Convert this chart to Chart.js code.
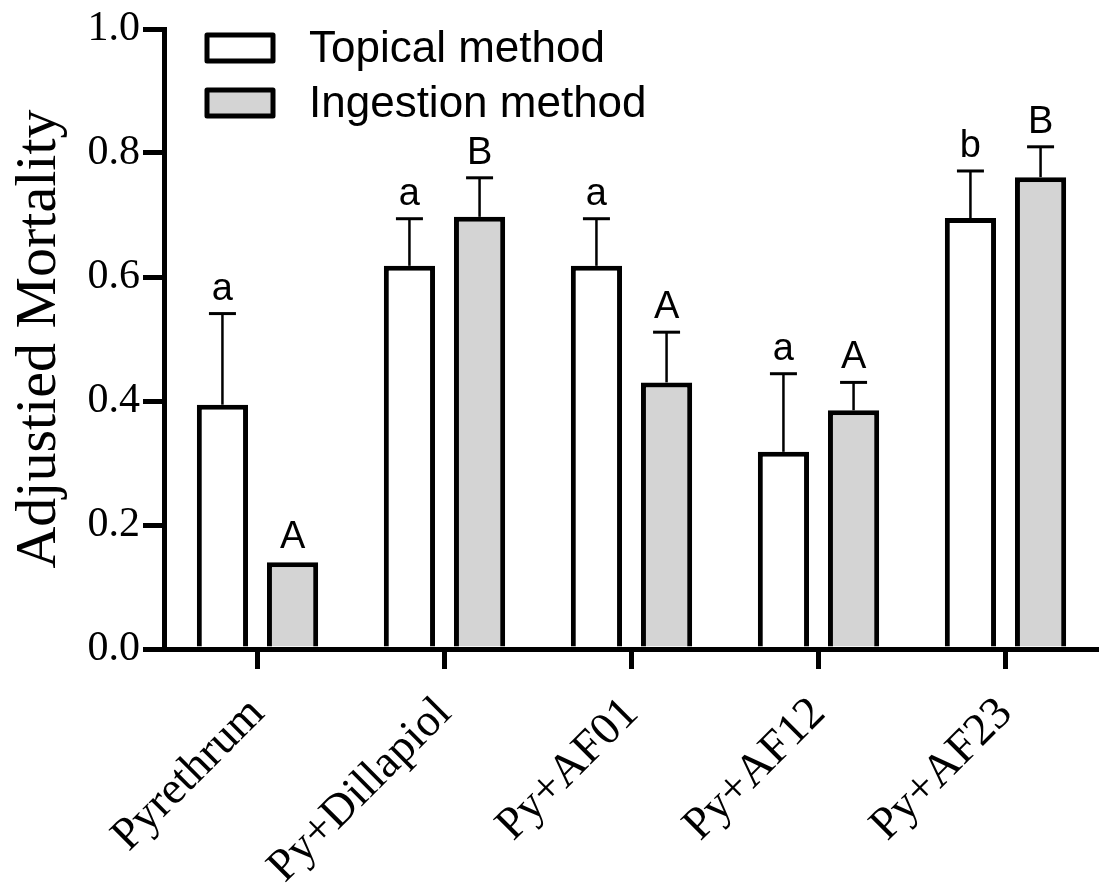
<!DOCTYPE html>
<html lang="en">
<head>
    <meta charset="UTF-8">
    <title>Adjusted Mortality</title>
    <script src="https://cdn.jsdelivr.net/npm/chart.js"></script>
    <style>
        body { margin: 0; background: #fff; }
        #wrap { width: 1099px; height: 886px; }
    </style>
</head>
<body>
    <div id="wrap"><canvas id="barChart"></canvas></div>

    <script>
        // values
        const categories = ['Pyrethrum', 'Py+Dillapiol', 'Py+AF01', 'Py+AF12', 'Py+AF23'];
        const topical = [0.394, 0.618, 0.618, 0.318, 0.695];
        const topicalErr = [0.147, 0.076, 0.076, 0.126, 0.076];
        const ingestion = [0.140, 0.697, 0.430, 0.385, 0.761];
        const ingestionErr = [0, 0.063, 0.081, 0.045, 0.049];
        const topicalLetters = ['a', 'a', 'a', 'a', 'b'];
        const ingestionLetters = ['A', 'B', 'A', 'A', 'B'];
        const yTicks = [0, 0.2, 0.4, 0.6, 0.8, 1.0];
        const seriesNames = ['Topical method', 'Ingestion method'];

        const errors = [topicalErr, ingestionErr];
        const letters = [topicalLetters, ingestionLetters];

        const errorBars = {
            id: 'errorBars',
            afterDatasetsDraw(chart) {
                const ctx = chart.ctx;
                const y = chart.scales.y;
                ctx.save();
                ctx.strokeStyle = '#000';
                ctx.fillStyle = '#000';
                ctx.font = '38px "Liberation Sans", Arial, sans-serif';
                ctx.textAlign = 'center';
                ctx.textBaseline = 'alphabetic';
                chart.data.datasets.forEach((ds, i) => {
                    chart.getDatasetMeta(i).data.forEach((bar, j) => {
                        const err = errors[i][j];
                        let top = bar.y;
                        if (err > 0) {
                            top = y.getPixelForValue(ds.data[j] + err);
                            ctx.lineWidth = 2.5;
                            ctx.beginPath();
                            ctx.moveTo(bar.x, bar.y);
                            ctx.lineTo(bar.x, top);
                            ctx.stroke();
                            ctx.lineWidth = 3;
                            ctx.beginPath();
                            ctx.moveTo(bar.x - 13.5, top);
                            ctx.lineTo(bar.x + 13.5, top);
                            ctx.stroke();
                        }
                        ctx.fillText(letters[i][j], bar.x, top - 14);
                    });
                });
                ctx.restore();
            }
        };

        const boxLegend = {
            id: 'boxLegend',
            afterDraw(chart) {
                const ctx = chart.ctx;
                ctx.save();
                ctx.font = '44px "Liberation Sans", Arial, sans-serif';
                ctx.textBaseline = 'middle';
                ctx.textAlign = 'left';
                chart.data.datasets.forEach((ds, i) => {
                    const cy = 48 + i * 55;
                    ctx.fillStyle = ds.backgroundColor;
                    ctx.strokeStyle = '#000';
                    ctx.lineWidth = 5;
                    ctx.lineJoin = 'round';
                    ctx.fillRect(207, cy - 13, 66, 26);
                    ctx.strokeRect(207, cy - 13, 66, 26);
                    ctx.fillStyle = '#000';
                    ctx.fillText(ds.label, 309, cy + 2);
                });
                ctx.restore();
            }
        };

        new Chart(document.getElementById('barChart').getContext('2d'), {
            type: 'bar',
            data: {
                labels: categories,
                datasets: [
                    { label: seriesNames[0], data: topical, backgroundColor: '#ffffff', borderColor: '#000', borderWidth: 5 },
                    { label: seriesNames[1], data: ingestion, backgroundColor: '#d4d4d4', borderColor: '#000', borderWidth: 5 }
                ]
            },
            options: {
                responsive: true,
                maintainAspectRatio: false,
                animation: false,
                layout: { padding: { top: 29, left: 0, right: 0, bottom: 0 } },
                datasets: { bar: { categoryPercentage: 0.75, barPercentage: 0.73 } },
                plugins: { legend: { display: false }, tooltip: { enabled: false } },
                scales: {
                    x: {
                        afterFit(scale) { scale.height = 237; },
                        grid: { offset: false, drawOnChartArea: false, color: '#000', lineWidth: 5, tickLength: 20 },
                        border: { display: true, color: '#000', width: 5 },
                        ticks: {
                            color: '#000',
                            maxRotation: 45,
                            minRotation: 45,
                            padding: 18,
                            font: { family: '"Liberation Serif", "Times New Roman", serif', size: 46 }
                        }
                    },
                    y: {
                        min: 0,
                        max: 1,
                        afterFit(scale) { scale.width = 164; },
                        afterBuildTicks(scale) { scale.ticks = yTicks.map(v => ({ value: v })); },
                        grid: { drawOnChartArea: false, color: '#000', lineWidth: 5, tickLength: 21 },
                        border: { display: true, color: '#000', width: 5 },
                        ticks: {
                            color: '#000',
                            padding: 3,
                            callback: v => Number(v).toFixed(1),
                            font: { family: '"Liberation Serif", "Times New Roman", serif', size: 42 }
                        },
                        title: {
                            display: true,
                            text: 'Adjustied Mortality',
                            color: '#000',
                            padding: { top: 5, bottom: 0 },
                            font: { family: '"Liberation Serif", "Times New Roman", serif', size: 58 }
                        }
                    }
                }
            },
            plugins: [errorBars, boxLegend]
        });
    </script>
</body>
</html>
